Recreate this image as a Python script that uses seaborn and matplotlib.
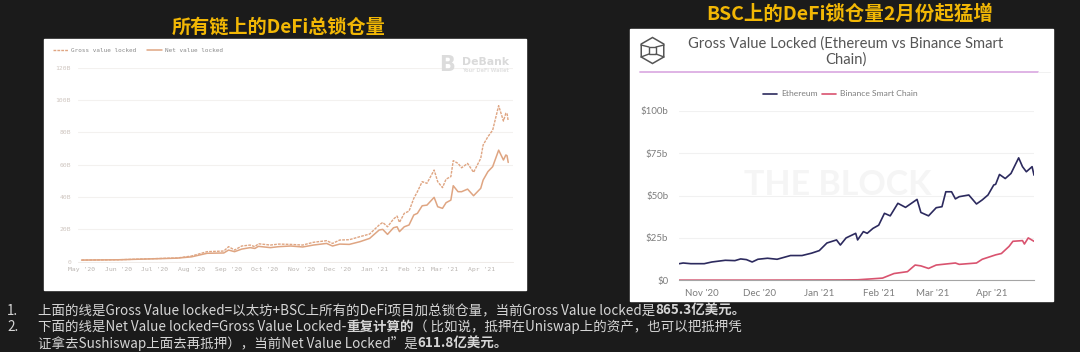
import matplotlib
matplotlib.use("Agg")
import matplotlib.pyplot as plt
import pandas as pd
import seaborn as sns
from matplotlib.lines import Line2D
from matplotlib.patches import Rectangle, RegularPolygon

# all chain chart (left), values in billion usd
all_dates = ["2020-05-01", "2020-06-01", "2020-07-01", "2020-07-20", "2020-08-01", "2020-08-14", "2020-08-28",
             "2020-09-01", "2020-09-06", "2020-09-12", "2020-09-19", "2020-09-23", "2020-09-26", "2020-10-06",
             "2020-10-13", "2020-10-23", "2020-11-02", "2020-11-11", "2020-11-22", "2020-11-27", "2020-12-03",
             "2020-12-11", "2020-12-20", "2020-12-28", "2021-01-05", "2021-01-08", "2021-01-12", "2021-01-17",
             "2021-01-20", "2021-01-22", "2021-01-26", "2021-01-30", "2021-02-03", "2021-02-06", "2021-02-10",
             "2021-02-14", "2021-02-20", "2021-02-23", "2021-02-27", "2021-03-02", "2021-03-06", "2021-03-08",
             "2021-03-12", "2021-03-15", "2021-03-20", "2021-03-25", "2021-03-31", "2021-04-02", "2021-04-06",
             "2021-04-10", "2021-04-15", "2021-04-19", "2021-04-21", "2021-04-22", "2021-04-23"]
gross_locked = [1.0, 1.2, 1.9, 2.3, 3.5, 6.2, 6.6, 9.3, 7.2, 9.7, 10.3, 9.3, 11.1, 10.3, 10.9, 10.7, 10.3, 12.0,
                13.0, 11.3, 13.4, 13.6, 15.5, 17.1, 22.7, 24.3, 21.6, 26.4, 28.2, 24.3, 29.9, 31.3, 39.2, 43.3,
                49.5, 48.5, 56.7, 49.5, 45.8, 51.1, 52.6, 62.5, 60.8, 58.1, 60.8, 55.3, 63.9, 72.2, 77.3, 81.4,
                96.5, 87.0, 91.8, 91.8, 87.0]
net_locked = [1.0, 1.2, 1.8, 2.2, 3.0, 5.2, 5.4, 7.2, 6.2, 7.8, 8.7, 8.2, 9.5, 8.7, 9.3, 9.7, 9.1, 10.3, 11.3,
              9.7, 10.9, 10.7, 12.4, 14.4, 19.6, 20.0, 16.9, 21.0, 21.6, 18.6, 21.6, 22.7, 28.9, 29.9, 34.6,
              35.0, 39.8, 34.0, 33.0, 36.5, 38.1, 47.0, 43.3, 43.3, 44.9, 40.8, 45.4, 50.5, 55.7, 58.8, 69.0,
              62.9, 66.0, 65.6, 61.4]
all_yticks = [0, 20, 40, 60, 80, 100, 120]
all_ylabels = ["0", "20B", "40B", "60B", "80B", "100B", "120B"]
all_months = ["2020-05-01", "2020-06-01", "2020-07-01", "2020-08-01", "2020-09-01", "2020-10-01", "2020-11-01",
              "2020-12-01", "2021-01-01", "2021-02-01", "2021-03-01", "2021-04-01"]
all_mlabels = ["May '20", "Jun '20", "Jul '20", "Aug '20", "Sep '20", "Oct '20", "Nov '20", "Dec '20", "Jan '21",
               "Feb '21", "Mar '21", "Apr '21"]

# eth vs bsc chart (right)
eth_dates = ["2020-10-20", "2020-10-22", "2020-10-26", "2020-11-02", "2020-11-06", "2020-11-13", "2020-11-18",
             "2020-11-21", "2020-11-24", "2020-11-27", "2020-11-30", "2020-12-05", "2020-12-10", "2020-12-17",
             "2020-12-23", "2020-12-28", "2021-01-01", "2021-01-05", "2021-01-10", "2021-01-12", "2021-01-15",
             "2021-01-20", "2021-01-21", "2021-01-24", "2021-01-26", "2021-01-29", "2021-02-01", "2021-02-04",
             "2021-02-07", "2021-02-11", "2021-02-15", "2021-02-21", "2021-02-23", "2021-02-27", "2021-03-03",
             "2021-03-06", "2021-03-08", "2021-03-11", "2021-03-13", "2021-03-15", "2021-03-20", "2021-03-24",
             "2021-03-27", "2021-03-30", "2021-04-02", "2021-04-03", "2021-04-05", "2021-04-08", "2021-04-11",
             "2021-04-15", "2021-04-17", "2021-04-19", "2021-04-22", "2021-04-23"]
eth_values = [9.8, 10.2, 9.8, 9.8, 10.8, 11.8, 11.6, 12.6, 12.2, 10.8, 12.4, 13.0, 12.4, 14.6, 14.6, 16.0, 17.5,
              22.0, 23.8, 20.8, 25.0, 27.7, 23.8, 28.7, 27.7, 30.6, 32.5, 39.5, 38.0, 45.4, 43.0, 47.7, 40.0,
              38.0, 42.8, 43.4, 52.2, 52.2, 48.0, 49.3, 50.3, 45.0, 47.4, 50.3, 56.2, 56.6, 62.4, 60.0, 63.0,
              72.2, 67.0, 64.0, 67.0, 62.0]
bsc_dates = ["2020-10-20", "2020-12-01", "2021-01-12", "2021-01-21", "2021-01-29", "2021-02-03", "2021-02-09",
             "2021-02-16", "2021-02-20", "2021-02-23", "2021-02-27", "2021-03-03", "2021-03-08", "2021-03-13",
             "2021-03-15", "2021-03-24", "2021-03-27", "2021-04-03", "2021-04-06", "2021-04-10", "2021-04-12",
             "2021-04-17", "2021-04-18", "2021-04-20", "2021-04-23"]
bsc_values = [0.1, 0.1, 0.2, 0.3, 0.9, 1.3, 4.0, 5.1, 9.0, 8.5, 7.0, 9.0, 9.6, 10.2, 9.4, 10.2, 12.4, 15.0, 15.8,
              20.0, 23.0, 23.4, 21.4, 25.0, 23.0]
eth_yticks = [0, 25, 50, 75, 100]
eth_ylabels = ["$0", "$25b", "$50b", "$75b", "$100b"]
eth_months = ["2020-11-01", "2020-12-01", "2021-01-01", "2021-02-01", "2021-03-01", "2021-04-01"]
eth_mlabels = ["Nov '20", "Dec '20", "Jan '21", "Feb '21", "Mar '21", "Apr '21"]

sns.set_theme(style="white")
cjk = ["Noto Sans CJK SC", "DejaVu Sans"]
plt.rcParams["font.family"] = cjk

W, H = 1080, 352
BG = "#1b1b1b"
fig = plt.figure(figsize=(W / 100, H / 100), dpi=100, facecolor=BG)


def fx(x):
    return x / W


def fy(y):
    return 1 - y / H


def px_axes(x0, y0, x1, y1):
    ax = fig.add_axes([fx(x0), fy(y1), (x1 - x0) / W, (y1 - y0) / H])
    ax.set_facecolor("none")
    return ax


# white panels
fig.add_artist(Rectangle((fx(44), fy(290)), 482 / W, 251 / H, transform=fig.transFigure, color="white", zorder=-2))
fig.add_artist(Rectangle((fx(630), fy(301)), 423 / W, 272 / H, transform=fig.transFigure, color="white", zorder=-2))

# titles
fig.text(fx(279), fy(27), "所有链上的DeFi总锁仓量", color="#f2b705", fontsize=13.8, fontweight="bold",
         ha="center", va="center")
fig.text(fx(850), fy(14), "BSC上的DeFi锁仓量2月份起猛增", color="#f2b705", fontsize=14, fontweight="bold",
         ha="center", va="center")

################################################################################
# left chart
axL = px_axes(78, 67.7, 513, 261.7)
line_col = "#dfa582"
sns.lineplot(x=pd.to_datetime(all_dates), y=gross_locked, ax=axL, color=line_col, lw=1.0, linestyle=(0, (2, 0.8)),
             label="Gross value locked")
sns.lineplot(x=pd.to_datetime(all_dates), y=net_locked, ax=axL, color=line_col, lw=1.1, label="Net value locked")
axL.set_ylim(0, 120)
axL.set_xlim(pd.Timestamp("2020-04-28"), pd.Timestamp("2021-04-27"))
axL.set_xlabel("")
axL.set_yticks(all_yticks, all_ylabels, family="DejaVu Sans Mono", fontsize=4.6, color="#cfc6c0")
axL.set_xticks(pd.to_datetime(all_months), all_mlabels, family="DejaVu Sans Mono", fontsize=4.6, color="#b9b4b0")
axL.tick_params(axis="y", length=0, pad=5)
axL.tick_params(axis="x", length=3, width=0.5, color="#e4e0dc", pad=1)
axL.grid(axis="y", color="#f3f1ef", lw=0.8)
sns.despine(ax=axL, left=True, top=True, right=True)
axL.spines["bottom"].set_color("#ece8e4")
axL.spines["bottom"].set_linewidth(0.6)
leg = axL.legend(loc="center left", bbox_to_anchor=(fx(53), fy(50.5)), bbox_transform=fig.transFigure, ncol=2,
                 frameon=False, handlelength=2.5, handletextpad=0.5, columnspacing=1.8, borderpad=0, borderaxespad=0,
                 prop={"family": "DejaVu Sans Mono", "size": 4.35})
for t in leg.get_texts():
    t.set_color("#8a8a8a")

# debank mark
fig.text(fx(447), fy(65), "B", color="#dcdcdc", fontsize=15, fontweight="bold", ha="center", va="center",
         family="DejaVu Sans")
fig.text(fx(462), fy(62), "DeBank", color="#dadada", fontsize=7.8, fontweight="bold", ha="left", va="center",
         family="DejaVu Sans")
fig.text(fx(462), fy(71), "Your DeFi Wallet", color="#e2e2e2", fontsize=3.6, fontweight="bold", ha="left",
         va="center", family="DejaVu Sans")

################################################################################
# right chart
axR = px_axes(679.3, 110.7, 1034, 280.3)
sns.lineplot(x=pd.to_datetime(eth_dates), y=eth_values, ax=axR, color="#2c2a5e", lw=1.2, label="Ethereum")
sns.lineplot(x=pd.to_datetime(bsc_dates), y=bsc_values, ax=axR, color="#d9536f", lw=1.2,
             label="Binance Smart Chain")
axR.set_ylim(0, 100)
axR.set_xlim(pd.Timestamp("2020-10-20"), pd.Timestamp("2021-04-23"))
axR.set_xlabel("")
axR.set_yticks(eth_yticks, eth_ylabels, family="Lato", fontsize=7, color="#7d7d7d")
axR.set_xticks(pd.to_datetime(eth_months), eth_mlabels, family="Lato", fontsize=7, color="#7d7d7d")
axR.tick_params(axis="y", length=0, pad=8)
axR.tick_params(axis="x", length=0, pad=6)
axR.grid(axis="y", color="#f1f1f1", lw=0.8)
sns.despine(ax=axR, left=True, top=True, right=True)
axR.spines["bottom"].set_color("#a5a5a5")
axR.spines["bottom"].set_linewidth(0.8)
leg = axR.legend(loc="center left", bbox_to_anchor=(fx(763), fy(94)), bbox_transform=fig.transFigure, ncol=2,
                 frameon=False, handlelength=1.65, handletextpad=0.5, columnspacing=0.5, borderpad=0, borderaxespad=0,
                 prop={"family": "Lato", "size": 6.1})
for t in leg.get_texts():
    t.set_color("#7d7d7d")

fig.text(fx(846), fy(44), "Gross Value Locked (Ethereum vs Binance Smart", color="#555555", fontsize=10.6,
         family="Lato", ha="center", va="center")
fig.text(fx(846), fy(60), "Chain)", color="#555555", fontsize=10.6, family="Lato", ha="center", va="center")
fig.add_artist(Line2D([fx(640), fx(1038)], [fy(72), fy(72)], color="#dcaee3", lw=1.3))
fig.add_artist(Line2D([fx(1038), fx(1050)], [fy(72), fy(72)], color="#efefef", lw=0.6))
fig.text(fx(838), fy(185), "THE BLOCK", color="#f5f5f5", fontsize=24.5, fontweight="bold", family="Lato",
         ha="center", va="center", zorder=-1)

# the block logo, a cube in a hexagon
cube_col = "#555555"
fig.add_artist(RegularPolygon((652.5, 352 - 50.5), 6, radius=13, fill=False, ec=cube_col, lw=1.1,
                              transform=None))
fig.add_artist(Rectangle((fx(649), fy(54)), 7 / W, 7 / H, transform=fig.transFigure, fill=False, ec=cube_col, lw=1))
for x0, y0, x1, y1 in [(641, 45, 649, 47), (664, 45, 656, 47), (641, 57, 649, 54), (664, 57, 656, 54)]:
    fig.add_artist(Line2D([fx(x0), fx(x1)], [fy(y0), fy(y1)], color=cube_col, lw=1))

################################################################################
# footnote, mixed regular and bold pieces on each line
note_col = "#d6d6d6"
note_size = 9.7
note_lines = [
    (311, [("上面的线是Gross Value locked=以太坊+BSC上所有的DeFi项目加总锁仓量，当前Gross Value locked是", "normal"),
           ("865.3亿美元。", "bold")]),
    (327, [("下面的线是Net Value locked=Gross Value Locked-", "normal"), ("重复计算的", "bold"),
           ("（ 比如说，抵押在Uniswap上的资产，也可以把抵押凭", "normal")]),
    (344, [("证拿去Sushiswap上面去再抵押），当前Net Value Locked”是", "normal"), ("611.8亿美元。", "bold")]),
]
fig.text(fx(7), fy(311), "1.", color=note_col, fontsize=note_size, va="center")
fig.text(fx(7), fy(327), "2.", color=note_col, fontsize=note_size, va="center")
renderer = fig.canvas.get_renderer()
for y, pieces in note_lines:
    x = 38
    for s, w in pieces:
        t = fig.text(fx(x), fy(y), s, color=note_col, fontsize=note_size, fontweight=w, va="center", ha="left")
        x = t.get_window_extent(renderer).x1

plt.savefig("out.png", dpi=100, facecolor=BG)
